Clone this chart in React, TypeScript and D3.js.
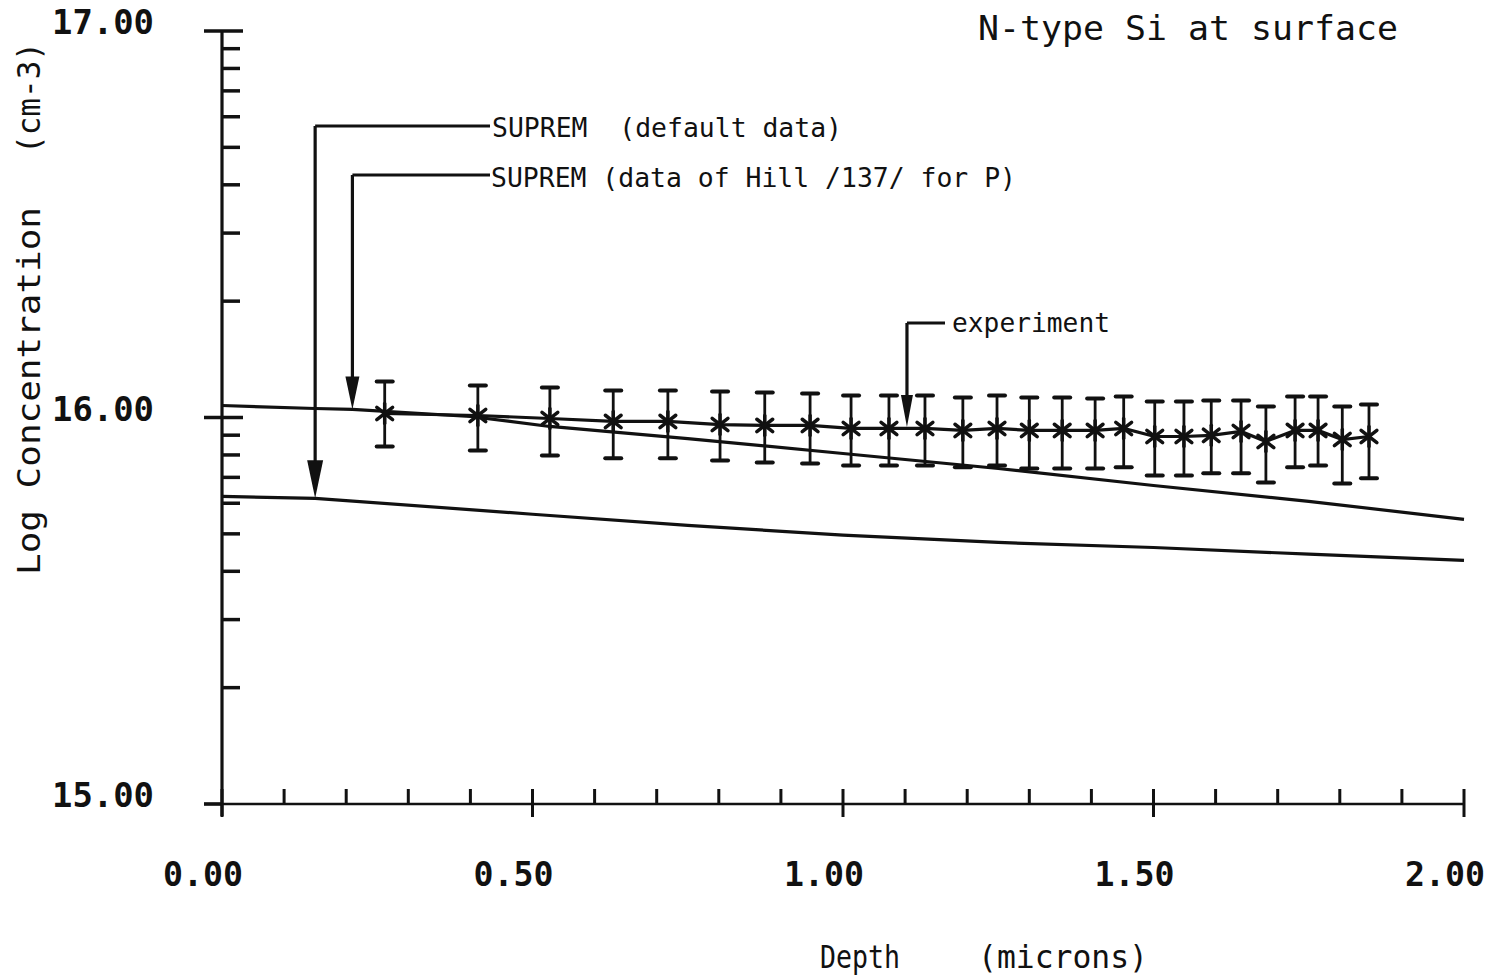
import React from "react";
import * as d3 from "d3";

// ---- data ----
const hillDepth = [0, 0.15, 0.21, 0.4, 0.528, 0.75, 1.0, 1.25, 1.5, 1.75, 2.0];
const hillConc = [1.074e16, 1.055e16, 1.049e16, 1.006e16, 0.948e16, 0.882e16, 0.807e16, 0.738e16, 0.667e16, 0.607e16, 0.545e16];

const defDepth = [0, 0.15, 0.5, 0.75, 1.0, 1.25, 1.5, 1.75, 2.0];
const defConc = [0.625e16, 0.618e16, 0.562e16, 0.526e16, 0.496e16, 0.475e16, 0.461e16, 0.443e16, 0.427e16];

const expDepth = [0.262, 0.412, 0.528, 0.630, 0.718, 0.802, 0.874, 0.947, 1.013, 1.074, 1.132, 1.193, 1.248, 1.300, 1.353, 1.406, 1.452, 1.502, 1.549, 1.593, 1.641, 1.681, 1.728, 1.765, 1.804, 1.847];
const expConc = [1.024e16, 1.012e16, 0.994e16, 0.977e16, 0.977e16, 0.959e16, 0.954e16, 0.954e16, 0.937e16, 0.937e16, 0.937e16, 0.926e16, 0.937e16, 0.926e16, 0.926e16, 0.926e16, 0.937e16, 0.893e16, 0.893e16, 0.899e16, 0.920e16, 0.867e16, 0.926e16, 0.926e16, 0.877e16, 0.893e16];
const expHigh = [1.239e16, 1.210e16, 1.195e16, 1.174e16, 1.174e16, 1.167e16, 1.160e16, 1.153e16, 1.140e16, 1.140e16, 1.140e16, 1.126e16, 1.140e16, 1.126e16, 1.126e16, 1.120e16, 1.133e16, 1.100e16, 1.100e16, 1.106e16, 1.106e16, 1.068e16, 1.133e16, 1.133e16, 1.068e16, 1.080e16];
const expLow = [0.841e16, 0.822e16, 0.798e16, 0.784e16, 0.784e16, 0.774e16, 0.765e16, 0.760e16, 0.751e16, 0.751e16, 0.751e16, 0.743e16, 0.751e16, 0.738e16, 0.738e16, 0.738e16, 0.743e16, 0.708e16, 0.708e16, 0.717e16, 0.717e16, 0.679e16, 0.743e16, 0.751e16, 0.675e16, 0.696e16];

const xMajorTicks = [0, 0.5, 1.0, 1.5, 2.0];
const xTickLabels = ["0.00", "0.50", "1.00", "1.50", "2.00"];
const yMajorTicks = [1e15, 1e16, 1e17];
const yTickLabels = ["15.00", "16.00", "17.00"];

const annoDefault = { text: "SUPREM  (default data)", depth: 0.15 };
const annoHill = { text: "SUPREM (data of Hill /137/ for P)", depth: 0.21 };
const annoExp = { text: "experiment", depth: 1.103 };

const title = "N-type Si at surface";
const xTitleA = "Depth";
const xTitleB = "(microns)";
const yTitleA = "Log Concentration";
const yTitleB = "(cm-3)";

export default function App() {
  const W = 1496, H = 977;
  const x = d3.scaleLinear().domain([0, 2]).range([222, 1464]);
  const y = d3.scaleLog().domain([1e15, 1e17]).range([804, 31]);
  const ink = "#111";
  const mono = "'DejaVu Sans Mono', monospace";

  const xMinor: number[] = d3.range(1, 20).filter((i) => i % 5 !== 0).map((i) => i / 10);
  const yMinor: number[] = [];
  [1e15, 1e16].forEach((d) => {
    for (let k = 2; k <= 9; k++) yMinor.push(k * d);
  });

  const line = d3
    .line<[number, number]>()
    .x((p) => x(p[0]))
    .y((p) => y(p[1]));

  const hillPts = hillDepth.map((d, i) => [d, hillConc[i]] as [number, number]);
  const defPts = defDepth.map((d, i) => [d, defConc[i]] as [number, number]);
  const expPts = expDepth.map((d, i) => [d, expConc[i]] as [number, number]);

  const interp = (xs: number[], ys: number[], v: number) => {
    const i = Math.max(1, d3.bisectLeft(xs, v));
    const t = (v - xs[i - 1]) / (xs[i] - xs[i - 1]);
    return Math.exp(Math.log(ys[i - 1]) * (1 - t) + Math.log(ys[i]) * t);
  };

  const arrow = (xp: number, yTop: number, yTip: number, hx: number, headLen: number, halfW: number, key: string) => (
    <g key={key}>
      <line x1={xp} y1={yTop} x2={xp} y2={yTip - headLen + 2} stroke={ink} strokeWidth={3.2} />
      <line x1={hx} y1={yTop} x2={xp} y2={yTop} stroke={ink} strokeWidth={3.2} />
      <path d={`M${xp - halfW},${yTip - headLen} L${xp + halfW},${yTip - headLen} L${xp},${yTip} Z`} fill={ink} />
    </g>
  );

  const star = (cx: number, cy: number, key: string) => {
    const r = 10;
    const angs = [90, 38, 142];
    return (
      <g key={key} stroke={ink} strokeWidth={3.5} strokeLinecap="round">
        {angs.map((a, j) => {
          const rad = (a * Math.PI) / 180;
          const dx = r * Math.cos(rad), dy = r * Math.sin(rad);
          return <line key={j} x1={cx - dx} y1={cy - dy} x2={cx + dx} y2={cy + dy} />;
        })}
      </g>
    );
  };

  const defX = x(annoDefault.depth);
  const hillX = x(annoHill.depth);
  const expX = x(annoExp.depth);

  return (
    <svg width={W} height={H} style={{ position: "absolute", left: 0, top: 0, background: "#fff" }}>
      <rect width={W} height={H} fill="#fff" />
      {/* axes */}
      <line x1={222} y1={y(1e17)} x2={222} y2={816} stroke={ink} strokeWidth={3.2} />
      <line x1={204} y1={y(1e15)} x2={x(2)} y2={y(1e15)} stroke={ink} strokeWidth={2.6} />
      {yMajorTicks.map((t, i) => (
        <line key={"ym" + i} x1={204} x2={i === 0 ? 222 : 243} y1={y(t)} y2={y(t)} stroke={ink} strokeWidth={3.5} />
      ))}
      {yMinor.map((t, i) => (
        <line key={"yn" + i} x1={222} x2={240} y1={y(t)} y2={y(t)} stroke={ink} strokeWidth={3.5} />
      ))}
      {xMajorTicks.map((t, i) => (
        <line key={"xm" + i} x1={x(t)} x2={x(t)} y1={y(1e15) - 15} y2={y(1e15) + 13} stroke={ink} strokeWidth={3} />
      ))}
      {xMinor.map((t, i) => (
        <line key={"xn" + i} x1={x(t)} x2={x(t)} y1={y(1e15) - 15} y2={y(1e15)} stroke={ink} strokeWidth={3} />
      ))}
      {/* tick labels */}
      {yMajorTicks.map((t, i) => (
        <text key={"yl" + i} x={52} y={y(t) + 3} fontFamily={mono} fontWeight="bold" fontSize={33} textLength={102} lengthAdjust="spacingAndGlyphs" fill={ink}>
          {yTickLabels[i]}
        </text>
      ))}
      {xMajorTicks.map((t, i) => (
        <text key={"xl" + i} x={x(t) - 59} y={886} fontFamily={mono} fontWeight="bold" fontSize={33} textLength={80} lengthAdjust="spacingAndGlyphs" fill={ink}>
          {xTickLabels[i]}
        </text>
      ))}
      {/* titles */}
      <text x={978} y={40} fontFamily={mono} fontSize={34} textLength={420} lengthAdjust="spacingAndGlyphs" fill={ink}>{title}</text>
      <text x={820} y={968} fontFamily={mono} fontSize={32} textLength={80} lengthAdjust="spacingAndGlyphs" fill={ink}>{xTitleA}</text>
      <text x={978} y={968} fontFamily={mono} fontSize={32} textLength={170} lengthAdjust="spacingAndGlyphs" fill={ink}>{xTitleB}</text>
      <g transform="translate(40,0) rotate(-90)">
        <text x={-575} y={0} fontFamily={mono} fontSize={32} textLength={368} lengthAdjust="spacingAndGlyphs" fill={ink}>{yTitleA}</text>
        <text x={-154} y={0} fontFamily={mono} fontSize={32} textLength={112} lengthAdjust="spacingAndGlyphs" fill={ink}>{yTitleB}</text>
      </g>
      {/* curves */}
      <path d={line(hillPts) || ""} fill="none" stroke={ink} strokeWidth={3.2} />
      <path d={line(defPts) || ""} fill="none" stroke={ink} strokeWidth={3.2} />
      <path d={line(expPts) || ""} fill="none" stroke={ink} strokeWidth={3.2} />
      {/* error bars & markers */}
      {expDepth.map((d, i) => {
        const cx = x(d);
        return (
          <g key={"eb" + i}>
            <line x1={cx} x2={cx} y1={y(expHigh[i])} y2={y(expLow[i])} stroke={ink} strokeWidth={2.8} />
            <line x1={cx - 8} x2={cx + 8} y1={y(expHigh[i])} y2={y(expHigh[i])} stroke={ink} strokeWidth={4} strokeLinecap="round" />
            <line x1={cx - 8} x2={cx + 8} y1={y(expLow[i])} y2={y(expLow[i])} stroke={ink} strokeWidth={4} strokeLinecap="round" />
            {star(cx, y(expConc[i]), "s" + i)}
          </g>
        );
      })}
      {/* annotations */}
      {arrow(defX, 126, y(interp(defDepth, defConc, annoDefault.depth)), 490, 38, 8, "a1")}
      {arrow(hillX, 175, y(interp(hillDepth, hillConc, annoHill.depth)), 490, 33, 7, "a2")}
      {arrow(expX, 323, 427, 945, 32, 6, "a3")}
      <text x={492} y={137} fontFamily={mono} fontSize={27} textLength={350} lengthAdjust="spacingAndGlyphs" fill={ink} style={{ whiteSpace: "pre" }}>{annoDefault.text}</text>
      <text x={491} y={187} fontFamily={mono} fontSize={27} textLength={525} lengthAdjust="spacingAndGlyphs" fill={ink}>{annoHill.text}</text>
      <text x={952} y={332} fontFamily={mono} fontSize={27} textLength={158} lengthAdjust="spacingAndGlyphs" fill={ink}>{annoExp.text}</text>
    </svg>
  );
}
